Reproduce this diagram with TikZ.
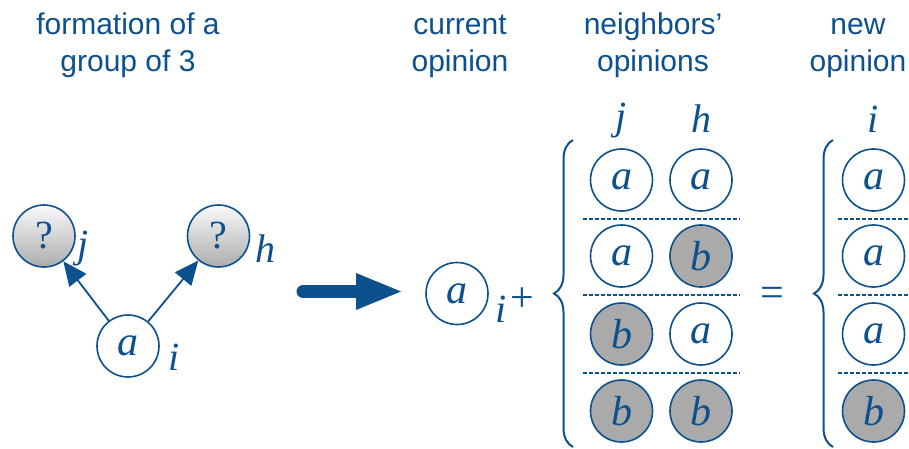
\documentclass[tikz,border=0pt]{standalone}
\usepackage{fontspec}
\setmainfont{Liberation Serif}
\newfontfamily\hv{Liberation Sans}
\usetikzlibrary{arrows.meta,decorations.pathreplacing}
\definecolor{ink}{RGB}{12,80,142}
\definecolor{opb}{RGB}{170,170,170}
\tikzset{
  title/.style={text=ink,font=\hv\fontsize{30}{32}\selectfont,anchor=base,inner sep=0},
  agent/.style={circle,draw=ink,line width=1.6pt,minimum size=62pt,inner sep=0,
    text=ink,font=\fontsize{42}{44}\selectfont\itshape},
  opa/.style={agent,fill=white},
  opbnode/.style={agent,fill=opb},
  unknown/.style={agent,top color=white!96!gray,bottom color=gray!65,font=\fontsize{40}{42}\selectfont},
  idx/.style={text=ink,font=\fontsize{40}{42}\selectfont\itshape,anchor=base,inner sep=0},
  link/.style={draw=ink,line width=1.8pt,-{Triangle[length=24pt,width=21pt]}},
  sep/.style={draw=ink,line width=1.4pt,dash pattern=on 3.5pt off 2.5pt},
  bracket/.style={draw=ink,line width=2pt,decorate,decoration={brace,amplitude=19pt}},
  opsign/.style={text=ink,font=\fontsize{42}{44}\selectfont,inner sep=0},
}
\begin{document}
\begin{tikzpicture}[x=1pt,y=-1pt]
\useasboundingbox (0,0) rectangle (909,449);
\clip (0,0) rectangle (909,449);

% column headings
\node[title] (t1a) at (128,35) {formation of a};
\node[title] (t1b) at (128,72) {group of 3};
\node[title] (t2a) at (460,35) {current};
\node[title] (t2b) at (460,72) {opinion};
\node[title] (t3a) at (653,35) {neighbors’};
\node[title] (t3b) at (653,72) {opinions};
\node[title] (t4a) at (858,35) {new};
\node[title] (t4b) at (858,72) {opinion};

% group formation
\node[unknown] (qj) at (44,236) {?};
\node[unknown] (qh) at (218.5,236) {?};
\node[opa] (ai) at (128,346) {a};
\node[idx] (lj) at (83,257) {j};
\node[idx] (lh) at (265,262) {h};
\node[idx] (li) at (174,370) {i};
\draw[link] (ai) -- (qj);
\draw[link] (ai) -- (qh);

% transition arrow: round-capped shaft and a triangular head
\coordinate (arrA) at (303,291.5);
\coordinate (arrM) at (356,291.5);
\coordinate (arrB) at (401,291.5);
\draw[ink,line width=13pt,line cap=round] (arrA) -- (arrM);
\fill[ink] (arrB) -- ([yshift=18.5pt]arrM) -- ([yshift=-18.5pt]arrM) -- cycle;

% current opinion
\node[opa] (cur) at (457,293.5) {a};
\node[idx] (ci) at (501,322) {i};
\node[opsign] (plus) at (522,300) {+};

% neighbours' opinions
\coordinate (b1s) at (573,447);
\coordinate (b1e) at (573,140);
\draw[bracket] (b1s) -- (b1e);
\node[idx] (hj) at (621.5,130) {j};
\node[idx] (hh) at (701,133) {h};
\node[opa] (n11) at (621.5,180) {a};
\node[opa] (n12) at (701,180) {a};
\node[opa] (n21) at (621.5,256) {a};
\node[opbnode] (n22) at (701,256) {b};
\node[opbnode] (n31) at (621.5,334) {b};
\node[opa] (n32) at (701,334) {a};
\node[opbnode] (n41) at (621.5,411) {b};
\node[opbnode] (n42) at (701,411) {b};
\coordinate (s1a) at (583,219); \coordinate (s1b) at (740,219);
\coordinate (s2a) at (583,295); \coordinate (s2b) at (740,295);
\coordinate (s3a) at (583,373); \coordinate (s3b) at (740,373);
\draw[sep] (s1a) -- (s1b);
\draw[sep] (s2a) -- (s2b);
\draw[sep] (s3a) -- (s3b);

% equals
\node[opsign] (eq) at (772.5,297) {=};

% new opinion
\coordinate (b2s) at (833,447);
\coordinate (b2e) at (833,140);
\draw[bracket] (b2s) -- (b2e);
\node[idx] (ni) at (873,133) {i};
\node[opa] (r1) at (873.5,180) {a};
\node[opa] (r2) at (873.5,256) {a};
\node[opa] (r3) at (873.5,334) {a};
\node[opbnode] (r4) at (873.5,411) {b};
\coordinate (u1a) at (838,219); \coordinate (u1b) at (920,219);
\coordinate (u2a) at (838,295); \coordinate (u2b) at (920,295);
\coordinate (u3a) at (838,373); \coordinate (u3b) at (920,373);
\draw[sep] (u1a) -- (u1b);
\draw[sep] (u2a) -- (u2b);
\draw[sep] (u3a) -- (u3b);
\end{tikzpicture}
\end{document}
